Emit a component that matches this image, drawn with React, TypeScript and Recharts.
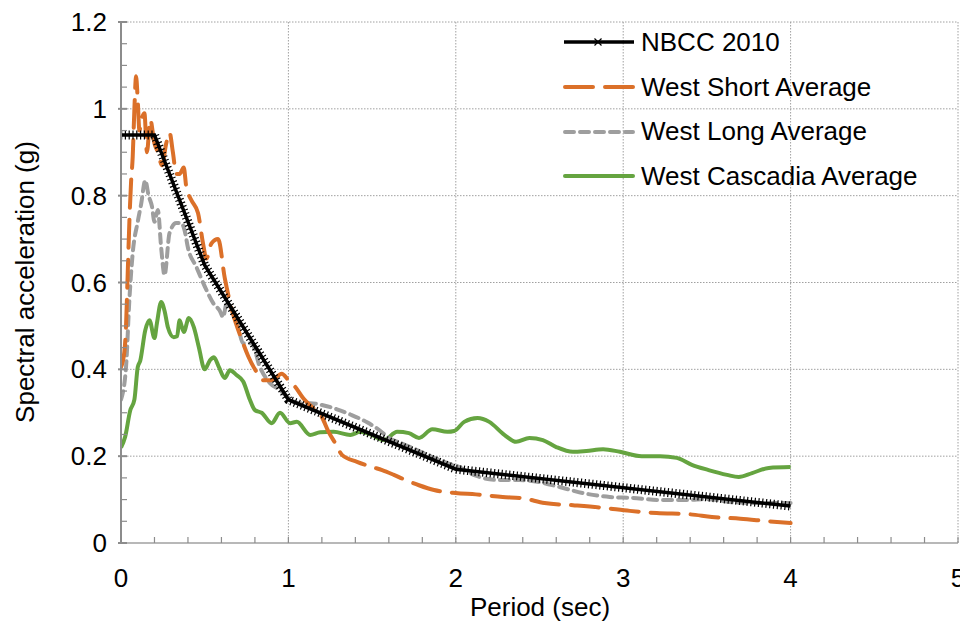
import { LineChart, Line, XAxis, YAxis, CartesianGrid, Legend } from 'recharts';

// NBCC 2010 design spectrum (key periods)
const nbccT = [0, 0.2, 0.5, 1, 2, 4];
const nbccSa = [0.94, 0.94, 0.64, 0.33, 0.17, 0.085];

// West Short Average
const shortT = [
  0, 0.02, 0.03, 0.04, 0.05, 0.06, 0.07, 0.08, 0.09, 0.1, 0.11, 0.12, 0.14, 0.155, 0.175, 0.2, 0.22,
  0.245, 0.27, 0.29, 0.31, 0.33, 0.35, 0.375, 0.39, 0.42, 0.46, 0.49, 0.51, 0.54, 0.58, 0.62, 0.66,
  0.72, 0.76, 0.8, 0.85, 0.9, 0.96, 1.0, 1.04, 1.09, 1.15, 1.2, 1.24, 1.28, 1.32, 1.41, 1.5, 1.56,
  1.63, 1.7, 1.78, 1.87, 2.0, 2.12, 2.28, 2.4, 2.53, 2.7, 2.88, 3.04, 3.2, 3.4, 3.53, 3.7, 3.87, 4.0,
];
const shortSa = [
  0.405, 0.44, 0.5, 0.62, 0.74, 0.83, 0.89, 1.0, 1.075, 1.02, 0.95, 0.97, 0.99, 0.9, 0.975, 0.92, 0.9,
  0.87, 0.92, 0.945, 0.9, 0.85, 0.85, 0.865, 0.82, 0.79, 0.76, 0.69, 0.655, 0.69, 0.7, 0.61, 0.54,
  0.47, 0.43, 0.4, 0.375, 0.375, 0.39, 0.375, 0.36, 0.333, 0.31, 0.29, 0.256, 0.23, 0.203, 0.187,
  0.175, 0.168, 0.157, 0.145, 0.133, 0.122, 0.115, 0.112, 0.106, 0.103, 0.092, 0.087, 0.081, 0.074,
  0.069, 0.066, 0.06, 0.056, 0.05, 0.046,
];

// West Long Average
const longT = [
  0, 0.03, 0.05, 0.07, 0.1, 0.12, 0.145, 0.165, 0.185, 0.2, 0.22, 0.24, 0.26, 0.29, 0.33, 0.36, 0.38,
  0.4, 0.45, 0.51, 0.55, 0.59, 0.61, 0.63, 0.69, 0.73, 0.78, 0.83, 0.89, 0.95, 1.01, 1.07, 1.13, 1.2,
  1.29, 1.37, 1.47, 1.55, 1.6, 1.66, 1.74, 1.86, 1.95, 2.02, 2.12, 2.26, 2.38, 2.5, 2.62, 2.76, 2.92,
  3.05, 3.22, 3.38, 3.5, 3.65, 3.85, 4.0,
];
const longSa = [
  0.33, 0.405, 0.56, 0.668, 0.74, 0.78, 0.835, 0.8, 0.775, 0.74, 0.767, 0.68, 0.617, 0.714, 0.737,
  0.737, 0.72, 0.68, 0.636, 0.583, 0.553, 0.535, 0.52, 0.55, 0.514, 0.46, 0.46, 0.405, 0.368, 0.352,
  0.33, 0.322, 0.322, 0.318, 0.308, 0.296, 0.278, 0.258, 0.242, 0.232, 0.219, 0.198, 0.184, 0.175,
  0.155, 0.145, 0.145, 0.14, 0.129, 0.115, 0.106, 0.104, 0.099, 0.099, 0.101, 0.094, 0.092, 0.092,
];

// West Cascadia Average
const cascT = [
  0, 0.025, 0.055, 0.08, 0.1, 0.115, 0.145, 0.17, 0.2, 0.215, 0.24, 0.26, 0.28, 0.315, 0.335, 0.35,
  0.375, 0.405, 0.435, 0.465, 0.5, 0.53, 0.555, 0.585, 0.62, 0.65, 0.69, 0.73, 0.77, 0.8, 0.84, 0.9,
  0.95, 1.01, 1.05, 1.13, 1.19, 1.27, 1.37, 1.43, 1.49, 1.57, 1.65, 1.72, 1.78, 1.86, 1.95, 1.99, 2.05,
  2.13, 2.2, 2.29, 2.36, 2.44, 2.52, 2.6, 2.7, 2.78, 2.88, 2.98, 3.11, 3.22, 3.32, 3.41, 3.51, 3.62,
  3.69, 3.77, 3.87, 4.0,
];
const cascSa = [
  0.22, 0.245, 0.305, 0.33, 0.405, 0.42, 0.49, 0.513, 0.472, 0.507, 0.555, 0.535, 0.497, 0.474, 0.476,
  0.513, 0.486, 0.518, 0.497, 0.451, 0.4, 0.42, 0.428, 0.405, 0.38, 0.398, 0.387, 0.372, 0.33, 0.306,
  0.3, 0.276, 0.3, 0.276, 0.279, 0.249, 0.255, 0.256, 0.249, 0.256, 0.25, 0.237, 0.256, 0.253, 0.242,
  0.262, 0.256, 0.258, 0.279, 0.288, 0.279, 0.249, 0.233, 0.242, 0.237, 0.221, 0.21, 0.212, 0.216,
  0.21, 0.2, 0.2, 0.196, 0.18, 0.168, 0.157, 0.152, 0.161, 0.173, 0.175,
];

const xTicks = [
  0, 0.2, 0.4, 0.6, 0.8, 1, 1.2, 1.4, 1.6, 1.8, 2, 2.2, 2.4, 2.6, 2.8, 3, 3.2, 3.4, 3.6, 3.8, 4, 4.2,
  4.4, 4.6, 4.8, 5,
];
const yTicks = [
  0, 0.05, 0.1, 0.15, 0.2, 0.25, 0.3, 0.35, 0.4, 0.45, 0.5, 0.55, 0.6, 0.65, 0.7, 0.75, 0.8, 0.85,
  0.9, 0.95, 1, 1.05, 1.1, 1.15, 1.2,
];
const xGrid = [1, 2, 3, 4, 5];
const yGrid = [0.2, 0.4, 0.6, 0.8, 1, 1.2];

const seriesNames = ['NBCC 2010', 'West Short Average', 'West Long Average', 'West Cascadia Average'];

const FONT = '"Liberation Sans", Arial, sans-serif';
const ORANGE = '#DB7029';
const GRAY = '#9E9E9E';
const GREEN = '#65A440';

const toPoints = (ts: number[], vs: number[]) => ts.map((t, i) => ({ t, sa: vs[i] }));

const nbccData = toPoints(nbccT, nbccSa);
const shortData = toPoints(shortT, shortSa);
const longData = toPoints(longT, longSa);
const cascData = toPoints(cascT, cascSa);

const isMultiple = (v: number, step: number) => Math.abs(v / step - Math.round(v / step)) < 1e-6;

const XTick = ({ x, y, payload }: any) => {
  const v = payload.value;
  return (
    <g>
      <line x1={x} x2={x} y1={y} y2={y - 6} stroke="#8c8c8c" strokeWidth={1.2} />
      {isMultiple(v, 1) && (
        <text x={x} y={y + 35} dy="0.35em" textAnchor="middle" fontSize={26} fontFamily={FONT} fill="#000">
          {v}
        </text>
      )}
    </g>
  );
};

const YTick = ({ x, y, payload }: any) => {
  const v = payload.value;
  const major = isMultiple(v, 0.2);
  return (
    <g>
      <line x1={major ? x - 3 : x} x2={x + 6} y1={y} y2={y} stroke="#8c8c8c" strokeWidth={major ? 2 : 1.2} />
      {major && (
        <text x={x - 14} y={y} dy="0.35em" textAnchor="end" fontSize={26} fontFamily={FONT} fill="#000">
          {Number(v.toFixed(2)).toString()}
        </text>
      )}
    </g>
  );
};

const Sample = ({ index }: { index: number }) => (
  <svg width={72} height={14} style={{ marginRight: 6, flexShrink: 0 }}>
    {index === 0 && (
      <g>
        <line x1={1} x2={71} y1={7} y2={7} stroke="#000" strokeWidth={3.5} />
        <path d="M31.5 3.5 L38.5 10.5 M38.5 3.5 L31.5 10.5" stroke="#000" strokeWidth={1.2} />
      </g>
    )}
    {index === 1 && (
      <line x1={2} x2={70} y1={7} y2={7} stroke={ORANGE} strokeWidth={4} strokeDasharray="28 12" strokeLinecap="round" />
    )}
    {index === 2 && (
      <line x1={2} x2={70} y1={7} y2={7} stroke={GRAY} strokeWidth={4} strokeDasharray="9 6" strokeLinecap="round" />
    )}
    {index === 3 && <line x1={2} x2={70} y1={7} y2={7} stroke={GREEN} strokeWidth={4} strokeLinecap="round" />}
  </svg>
);

const LegendBox = () => (
  <div style={{ fontFamily: FONT, fontSize: 26, color: '#000' }}>
    {seriesNames.map((name, i) => (
      <div key={name} style={{ display: 'flex', alignItems: 'center', height: 44.7, whiteSpace: 'nowrap' }}>
        <Sample index={i} />
        <span>{name}</span>
      </div>
    ))}
  </div>
);

export default function App() {
  return (
    <div style={{ width: 960, height: 618, position: 'relative', background: '#fff' }}>
      <LineChart width={960} height={618} margin={{ top: 14, right: 10, left: 13, bottom: 23 }}>
        <CartesianGrid
          stroke="#a0a0a0"
          strokeDasharray="1.5 1.5"
          horizontalValues={yGrid}
          verticalValues={xGrid}
        />
        <XAxis
          dataKey="t"
          type="number"
          domain={[0, 5]}
          ticks={xTicks}
          interval={0}
          tickSize={0}
          tickMargin={0}
          tick={<XTick />}
          height={60}
          allowDataOverflow
          axisLine={{ stroke: '#a0a0a0', strokeWidth: 1.5 }}
          label={{
            content: () => (
              <text x={532} y={599} textAnchor="middle" dy="0.35em" fontSize={26} fontFamily={FONT} fill="#000">
                Period (sec)
              </text>
            ),
          }}
        />
        <YAxis
          type="number"
          domain={[0, 1.2]}
          ticks={yTicks}
          interval={0}
          tickSize={0}
          tickMargin={0}
          tick={<YTick />}
          width={100}
          allowDataOverflow
          axisLine={{ stroke: '#8c8c8c', strokeWidth: 2 }}
          label={{
            content: () => (
              <text
                transform="translate(17, 274) rotate(-90)"
                textAnchor="middle"
                dy="0.35em"
                fontSize={26}
                fontFamily={FONT}
                fill="#000"
              >
                Spectral acceleration (g)
              </text>
            ),
          }}
        />
        <Legend
          layout="vertical"
          align="center"
          verticalAlign="middle"
          content={() => <LegendBox />}
          wrapperStyle={{ left: 555, top: 12, width: 400, height: 180 }}
        />
        <Line
          data={cascData}
          dataKey="sa"
          name="West Cascadia Average"
          type="monotone"
          stroke={GREEN}
          strokeWidth={4}
          dot={false}
          legendType="none"
          isAnimationActive={false}
        />
        <Line
          data={longData}
          dataKey="sa"
          name="West Long Average"
          type="monotone"
          stroke={GRAY}
          strokeWidth={4}
          strokeDasharray="9 6"
          strokeLinecap="round"
          dot={false}
          legendType="none"
          isAnimationActive={false}
        />
        <Line
          data={shortData}
          dataKey="sa"
          name="West Short Average"
          type="monotone"
          stroke={ORANGE}
          strokeWidth={4}
          strokeDasharray="28 12"
          strokeLinecap="round"
          dot={false}
          legendType="none"
          isAnimationActive={false}
        />
        <Line
          data={nbccData}
          dataKey="sa"
          name="NBCC 2010"
          type="linear"
          stroke="#000"
          strokeWidth={3.5}
          dot={false}
          legendType="none"
          isAnimationActive={false}
        />
        {/* dense x markers drawn as a hatched stroke along the same line */}
        <Line
          data={nbccData}
          dataKey="sa"
          name="NBCC 2010 markers"
          type="linear"
          stroke="#000"
          strokeWidth={9}
          strokeDasharray="1.2 2.6"
          dot={false}
          legendType="none"
          isAnimationActive={false}
        />
      </LineChart>
    </div>
  );
}
